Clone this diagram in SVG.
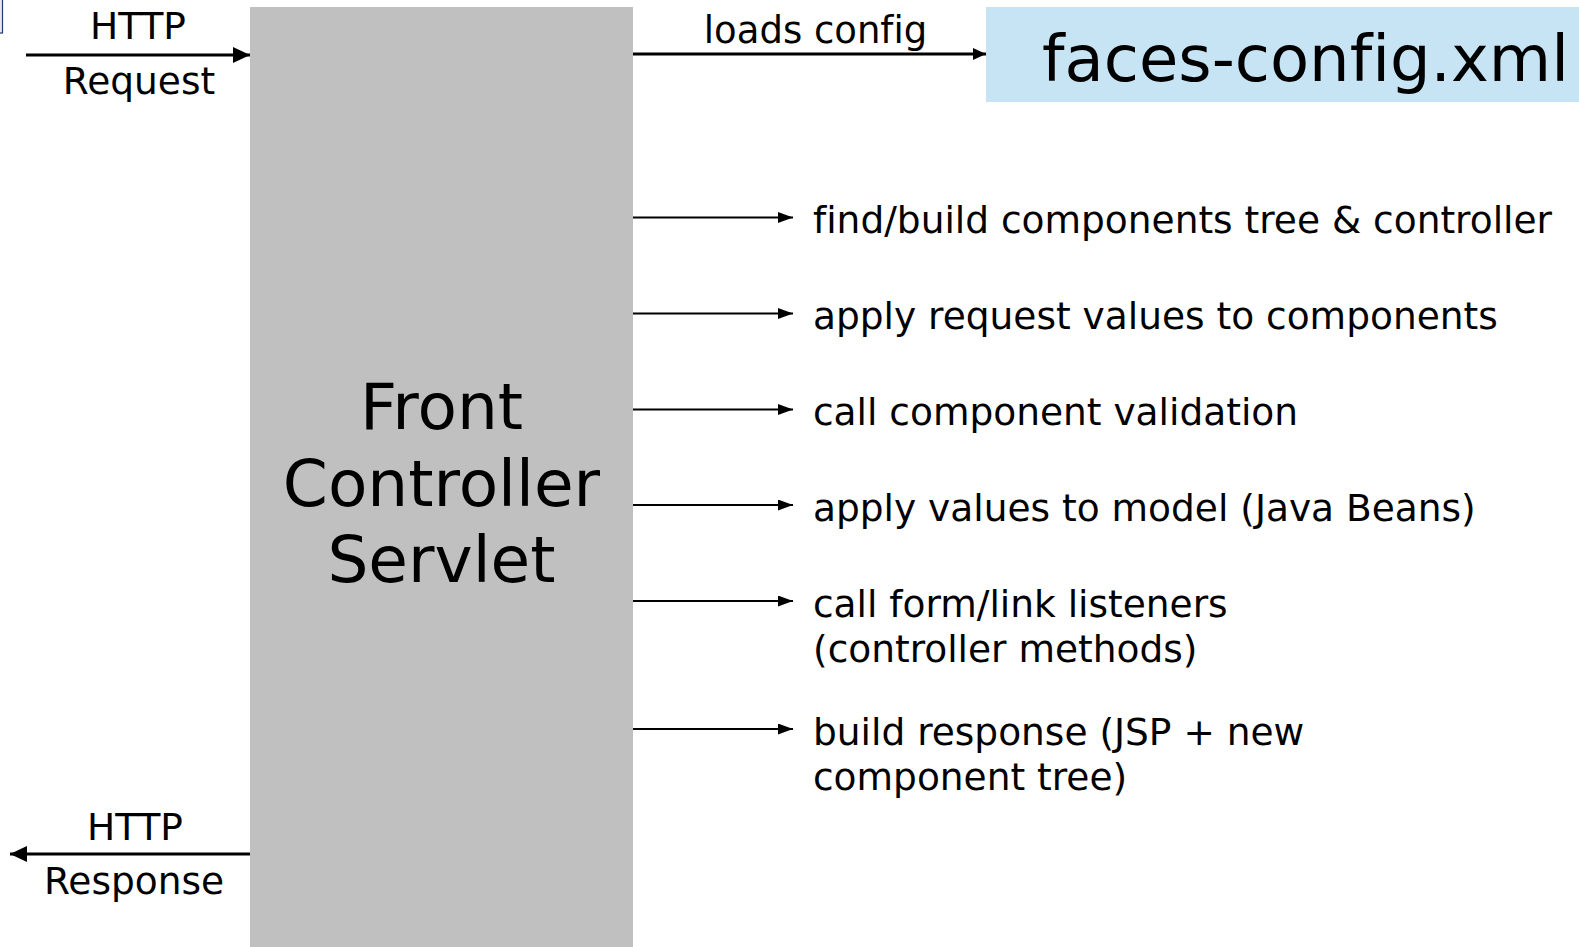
<svg xmlns="http://www.w3.org/2000/svg" width="1579" height="947" viewBox="0 0 1579 947">
<style>
  text { font-family: "DejaVu Sans", Verdana, sans-serif; fill: #000; font-variant-ligatures: none; }
  .lbl { font-size: 37.5px; }
  .big { font-size: 64.5px; text-anchor: middle; }
  .mid { text-anchor: middle; }
  .thick { stroke: #000; stroke-width: 3; fill: none; }
  .thin { stroke: #000; stroke-width: 2; fill: none; }
</style>
<defs>
  <marker id="ahBig" markerUnits="userSpaceOnUse" markerWidth="17" markerHeight="16" refX="17" refY="8" orient="auto">
    <path d="M0,0 L17,8 L0,16 Z" fill="#000"/>
  </marker>
  <marker id="ahMid" markerUnits="userSpaceOnUse" markerWidth="13" markerHeight="12" refX="13" refY="6" orient="auto">
    <path d="M0,0 L13,6 L0,12 Z" fill="#000"/>
  </marker>
  <marker id="ahSmall" markerUnits="userSpaceOnUse" markerWidth="15" markerHeight="11" refX="15" refY="5.5" orient="auto">
    <path d="M0,0 L15,5.5 L0,11 Z" fill="#000"/>
  </marker>
</defs>
<rect width="1579" height="947" fill="#fff"/>
<rect x="-5" y="-5" width="7.5" height="38" fill="#e3e9ef" stroke="#1f3d6b" stroke-width="1.2"/>

<g id="front-controller">
  <rect x="250" y="7" width="383" height="945" fill="#c0c0c0"/>
  <text class="big" x="441.5" y="429">Front</text>
  <text class="big" x="441.5" y="506">Controller</text>
  <text class="big" x="441.5" y="582">Servlet</text>
</g>

<g id="faces-config">
  <rect x="986" y="7" width="600" height="95" fill="#c6e4f4"/>
  <text x="1042" y="81" style="font-size:64px">faces-config.xml</text>
</g>

<g id="connectors">
  <line class="thick" x1="26" y1="55" x2="250" y2="55" marker-end="url(#ahBig)"/>
  <line class="thick" x1="250" y1="854" x2="10" y2="854" marker-end="url(#ahBig)"/>
  <line class="thick" x1="633" y1="54" x2="986" y2="54" marker-end="url(#ahMid)"/>
  <line class="thin" x1="633" y1="217.5" x2="793" y2="217.5" marker-end="url(#ahSmall)"/>
  <line class="thin" x1="633" y1="313.5" x2="793" y2="313.5" marker-end="url(#ahSmall)"/>
  <line class="thin" x1="633" y1="409.5" x2="793" y2="409.5" marker-end="url(#ahSmall)"/>
  <line class="thin" x1="633" y1="505" x2="793" y2="505" marker-end="url(#ahSmall)"/>
  <line class="thin" x1="633" y1="601" x2="793" y2="601" marker-end="url(#ahSmall)"/>
  <line class="thin" x1="633" y1="729" x2="793" y2="729" marker-end="url(#ahSmall)"/>
</g>

<g id="labels">
  <text class="lbl mid" x="138" y="39">HTTP</text>
  <text class="lbl mid" x="139" y="94">Request</text>
  <text class="lbl mid" x="135" y="840">HTTP</text>
  <text class="lbl mid" x="134" y="894">Response</text>
  <text class="lbl mid" x="815.5" y="43" style="font-size:37px">loads config</text>
  <text class="lbl" x="813" y="233">find/build components tree &amp; controller</text>
  <text class="lbl" x="813" y="329">apply request values to components</text>
  <text class="lbl" x="813" y="425">call component validation</text>
  <text class="lbl" x="813" y="520.5">apply values to model (Java Beans)</text>
  <text class="lbl" x="813" y="616.5">call form/link listeners</text>
  <text class="lbl" x="813" y="661.5">(controller methods)</text>
  <text class="lbl" x="813" y="744.5">build response (JSP + new</text>
  <text class="lbl" x="813" y="789.5">component tree)</text>
</g>
</svg>
